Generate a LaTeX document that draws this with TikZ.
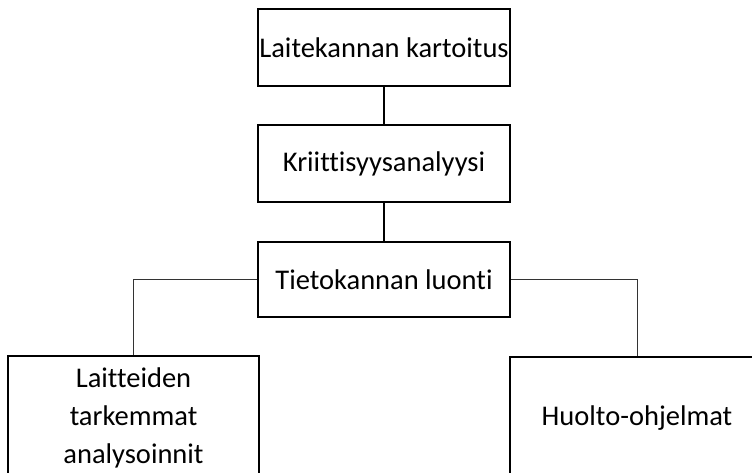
\documentclass[tikz,border=0pt]{standalone}
\usepackage{fontspec}
\setmainfont{Carlito}[Ligatures={NoCommon,NoContextual}]
\begin{document}
\begin{tikzpicture}[x=1pt,y=-1pt,
  box/.style={draw=black,line width=2.2pt,fill=white,inner sep=0pt,align=center,
    font=\fontsize{28.5}{38}\selectfont},
  conn/.style={draw=black,line width=1.4pt},
  sideconn/.style={draw=black!80,line width=1pt}]
\useasboundingbox (0,0) rectangle (752,472);
\clip (0,0) rectangle (752,472);
\node[box,minimum width=252pt,minimum height=77pt] (a) at (384,47.5) {Laitekannan kartoitus};
\node[box,minimum width=252pt,minimum height=77pt] (b) at (384,163.5) {Kriittisyysanalyysi};
\node[box,minimum width=252pt,minimum height=75pt] (c) at (384,279.5) {Tietokannan luonti};
\node[box,minimum width=251pt,minimum height=123pt] (d) at (133.5,417.5) {Laitteiden\\tarkemmat\\analysoinnit};
\node[box,minimum width=254pt,minimum height=123pt] (e) at (637,418.5) {Huolto-ohjelmat};
\draw[conn] (a.south) -- (b.north);
\draw[conn] (b.south) -- (c.north);
\draw[sideconn] (c.west) -| (d.north);
\draw[sideconn] (c.east) -| (e.north);
\end{tikzpicture}
\end{document}
